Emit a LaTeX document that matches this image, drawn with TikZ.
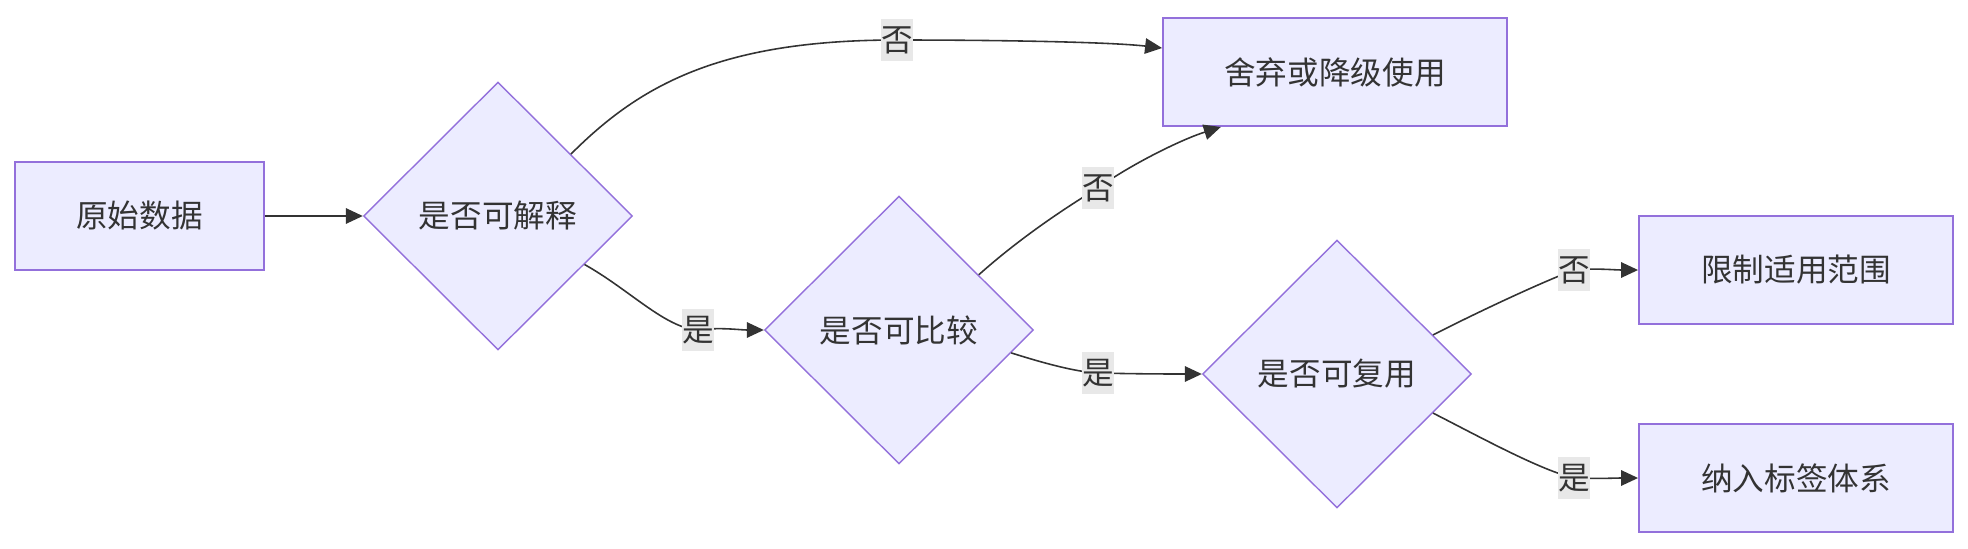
\documentclass[tikz,border=0pt]{standalone}
\usepackage{fontspec}
\setmainfont{Noto Sans CJK SC}
\usetikzlibrary{arrows.meta,calc,shapes.geometric}
\definecolor{ink}{HTML}{333333}
\definecolor{nodefill}{HTML}{ECECFF}
\definecolor{nodeline}{HTML}{9370DB}
\definecolor{lblbg}{HTML}{E8E8E8}

\begin{document}
\begin{tikzpicture}[x=0.02cm,y=-0.02cm,
  every node/.style={text=ink,font=\fontsize{18}{22}\selectfont},
  box/.style={draw=nodeline,fill=nodefill,line width=1.1pt,minimum height=2.16cm,inner sep=0pt},
  decision/.style={diamond,aspect=1,draw=nodeline,fill=nodefill,line width=0.8pt,minimum width=5.38cm,minimum height=5.36cm,inner sep=0pt},
  edge/.style={draw=ink,line width=0.9pt,-{Triangle[length=0.34cm,width=0.31cm]}},
  lbl/.style={fill=lblbg,inner xsep=0pt,inner ysep=0.15cm}]
\useasboundingbox (0,0) rectangle (1968,548);
% nodes
\node[box,minimum width=4.98cm] (raw) at (139.5,216) {原始数据};
\node[decision] (expl) at (498,216) {是否可解释};
\node[box,minimum width=6.88cm] (drop) at (1335,72) {舍弃或降级使用};
\node[decision] (comp) at (899,330) {是否可比较};
\node[decision] (reuse) at (1337,374) {是否可复用};
\node[box,minimum width=6.28cm] (limit) at (1796,270) {限制适用范围};
\node[box,minimum width=6.28cm] (tag) at (1796,478) {纳入标签体系};
% label points
\coordinate (k1) at (897,40);
\coordinate (k2) at (698,330);
\coordinate (k3) at (1098,188);
\coordinate (k4) at (1098,373);
\coordinate (k5) at (1574,270);
\coordinate (k6) at (1574,478);
% connectors
\draw[edge] (raw) -- (expl);
\draw[edge] ($(expl.east)!0.46!(expl.north)$) .. controls (640,85) and (720,40) .. (k1) node[lbl] (no1) {否}
  .. controls (1000,40) and (1110,42) .. ([yshift=0.48cm]drop.west);
\draw[edge] ($(expl.east)!0.36!(expl.south)$) .. controls (630,290) and (665,328) .. (k2) node[lbl] (yes1) {是}
  .. controls (720,327) and (740,330) .. (comp.west);
\draw[edge] ($(comp.east)!0.41!(comp.north)$) .. controls (1020,238) and (1065,208) .. (k3) node[lbl] (no2) {否}
  .. controls (1130,165) and (1180,140) .. ($(drop.south west)!0.17!(drop.south east)$);
\draw[edge] ($(comp.east)!0.17!(comp.south)$) .. controls (1040,362) and (1075,372) .. (k4) node[lbl] (yes2) {是}
  .. controls (1140,374) and (1170,374) .. (reuse.west);
\draw[edge] ($(reuse.east)!0.29!(reuse.north)$) .. controls (1480,311) and (1540,283) .. (k5) node[lbl] (no3) {否}
  .. controls (1595,268) and (1615,270) .. (limit.west);
\draw[edge] ($(reuse.east)!0.29!(reuse.south)$) .. controls (1480,437) and (1540,470) .. (k6) node[lbl] (yes3) {是}
  .. controls (1595,479) and (1615,478) .. (tag.west);
\end{tikzpicture}
\end{document}
